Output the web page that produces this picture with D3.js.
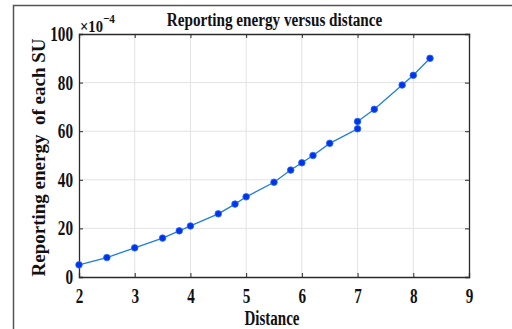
<!DOCTYPE html>
<html><head><meta charset="utf-8">
<script src="https://cdn.jsdelivr.net/npm/d3@7"></script>
<style>body{margin:0;background:#fff}svg{display:block}text{font-family:"Liberation Serif","Times New Roman",serif;font-weight:bold;fill:#111}</style>
</head><body>
<svg id="c" width="512" height="329"></svg>
<script>
const distance = [2, 2.5, 3, 3.5, 3.8, 4, 4.5, 4.8, 5, 5.5, 5.8, 6, 6.2, 6.5, 7, 7, 7.3, 7.8, 8, 8.3];
const energy = [5, 8, 12, 16, 19, 21, 26, 30, 33, 39, 44, 47, 50, 55, 61, 64, 69, 79, 83, 90];
const xTicks = [2, 3, 4, 5, 6, 7, 8, 9];
const yTicks = [0, 20, 40, 60, 80, 100];
const title = "Reporting energy versus distance";
const xLabel = "Distance";
const yLabel = "Reporting energy  of each SU";

const svg = d3.select("#c");
const L = 79, R = 469, T = 34, B = 277;
const x = d3.scaleLinear().domain([2, 9]).range([L, R]);
const y = d3.scaleLinear().domain([0, 100]).range([B, T]);

// outer frame
svg.append("path").attr("d", "M13.5,329 V5.5 H512").attr("fill", "none").attr("stroke", "#555").attr("stroke-width", 1.5);

// grid
svg.append("g").selectAll("line").data(xTicks.slice(1, -1)).join("line")
  .attr("x1", d => x(d)).attr("x2", d => x(d)).attr("y1", T).attr("y2", B)
  .attr("stroke", "#e3e3e3").attr("stroke-width", 1);
svg.append("g").selectAll("line").data(yTicks.slice(1, -1)).join("line")
  .attr("y1", d => y(d)).attr("y2", d => y(d)).attr("x1", L).attr("x2", R)
  .attr("stroke", "#e3e3e3").attr("stroke-width", 1);

// axes
const ax = d3.axisBottom(x).tickValues(xTicks).tickSize(-4).tickPadding(12).tickFormat(d3.format("d"));
const ay = d3.axisLeft(y).tickValues(yTicks).tickSize(-4).tickPadding(6).tickFormat(d3.format("d"));
const gx = svg.append("g").attr("transform", `translate(0,${B})`).call(ax);
const gy = svg.append("g").attr("transform", `translate(${L},0)`).call(ay);
const gx2 = svg.append("g").attr("transform", `translate(0,${T})`).call(d3.axisTop(x).tickValues(xTicks).tickSize(-4).tickFormat(""));
const gy2 = svg.append("g").attr("transform", `translate(${R},0)`).call(d3.axisRight(y).tickValues(yTicks).tickSize(-4).tickFormat(""));
[gx, gy, gx2, gy2].forEach(g => {
  g.select(".domain").attr("stroke", "#2a2a2a").attr("stroke-width", 1.3);
  g.selectAll(".tick line").attr("stroke", "#2a2a2a");
});
const SX = 0.76;
gx.selectAll(".tick text").attr("font-size", 20).attr("fill", "#111").attr("font-family", null)
  .attr("transform", `scale(${SX},1)`).attr("x", 0);
gy.selectAll(".tick text").attr("font-size", 20).attr("fill", "#111").attr("font-family", null)
  .each(function(){
    const t = d3.select(this); const xx = +t.attr("x");
    t.attr("transform", `scale(${SX},1)`).attr("x", xx / SX);
  });

// line
svg.append("path").datum(distance.map((d, i) => [d, energy[i]]))
  .attr("d", d3.line().x(d => x(d[0])).y(d => y(d[1])))
  .attr("fill", "none").attr("stroke", "#1f7fd4").attr("stroke-width", 1.3);
svg.append("g").selectAll("circle").data(distance.map((d, i) => [d, energy[i]])).join("circle")
  .attr("cx", d => x(d[0])).attr("cy", d => y(d[1])).attr("r", 3.3)
  .attr("fill", "#0033ee").attr("stroke", "#2a6cf0").attr("stroke-width", 0.8);

// title
svg.append("text").attr("transform", `translate(274.5,26) scale(0.8,1)`).attr("text-anchor", "middle")
  .attr("font-size", 19).text(title);
// multiplier
const m = svg.append("text").attr("transform", `translate(80,31.5) scale(0.86,1)`).attr("font-size", 17).attr("font-weight", "normal");
m.append("tspan").text("×10");
m.append("tspan").attr("dy", -9).attr("font-size", 13).text("−4");
// x label
svg.append("text").attr("transform", `translate(272,325) scale(0.75,1)`).attr("text-anchor", "middle")
  .attr("font-size", 20).text(xLabel);
// y label
svg.append("text").attr("transform", `translate(44.5,157.5) rotate(-90)`).attr("text-anchor", "middle")
  .style("white-space", "pre").attr("font-size", 19).text(yLabel);
</script>
</body></html>
